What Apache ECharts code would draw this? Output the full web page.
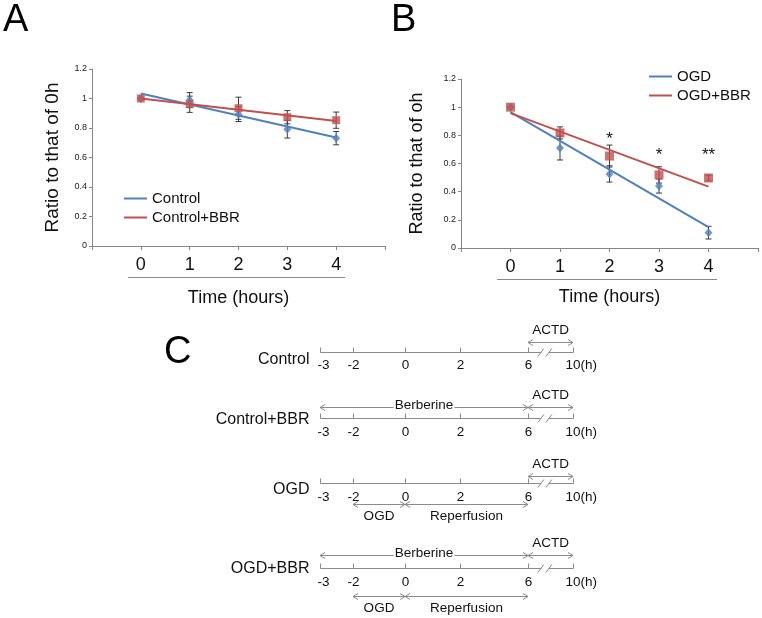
<!DOCTYPE html>
<html><head><meta charset="utf-8">
<script src="https://cdn.jsdelivr.net/npm/echarts@6.0.0/dist/echarts.min.js"></script>
<style>html,body{margin:0;padding:0;background:#fff}#c{width:762px;height:618px}</style>
</head><body><div id="c"></div>
<script>
// ---------- DATA ----------
const hours = [0, 1, 2, 3, 4];
const xTickLabels = ['0', '1', '2', '3', '4'];
// Panel A
const controlMean    = [1.0, 0.99, 0.894, 0.792, 0.731];
const controlErr     = [0, 0.05, 0.05, 0.06, 0.045];
const controlBbrMean = [1.0, 0.961, 0.934, 0.873, 0.853];
const controlBbrErr  = [0, 0.055, 0.075, 0.045, 0.055];
const controlTrend    = [1.034, 0.736];   // linear trend at 0 h and 4 h
const controlBbrTrend = [1.0, 0.848];
// Panel B
const ogdMean    = [1.0, 0.71, 0.526, 0.44, 0.109];
const ogdErr     = [0, 0.085, 0.058, 0.05, 0.045];
const ogdBbrMean = [1.0, 0.817, 0.653, 0.519, 0.497];
const ogdBbrErr  = [0, 0.043, 0.078, 0.058, 0.02];
const ogdTrend    = [0.965, 0.148];
const ogdBbrTrend = [0.958, 0.436];
const sigLabels = ['', '', '*', '*', '**'];
const sigLevel  = [null, null, 0.795, 0.68, 0.68];
// Panel C (protocol timelines)
const cRows = ['Control', 'Control+BBR', 'OGD', 'OGD+BBR'];
const cTickHours  = [-3, -2, 0, 2, 6, 10];
const cTickLabels = ['-3', '-2', '0', '2', '6', '10(h)'];
const periodNames = ['Berberine', 'ACTD', 'OGD', 'Reperfusion'];
const periodStart = [-3, 6, -2, 0];
const periodEnd   = [6, 10, 0, 6];
const periodSide  = ['above', 'above', 'below', 'below'];
const rowPeriods  = [['ACTD'], ['Berberine', 'ACTD'], ['ACTD', 'OGD', 'Reperfusion'], ['Berberine', 'ACTD', 'OGD', 'Reperfusion']];
const breakHour = 7.5;

// ---------- LAYOUT / STYLE ----------
const FONT = '"Liberation Sans", Arial, Helvetica, sans-serif';
const BLUE = '#4F81BD', RED = '#C0504D', AXIS = '#868686', ERR = '#3a3a3a';
const cTickSlot = [0, 33, 85, 140, 208, 253];      // schematic spacing of the broken time axis
const cRowPos = [0, 0.306, 0.606, 1];               // vertical slot of each timeline row
const cRowLayout = [
  {above: -11, below: 0,  label: 7, tick: 13},
  {above: -12, below: 0,  label: 1, tick: 14},
  {above: -8,  below: 20, label: 6, tick: 14},
  {above: -14, below: 27, label: 0, tick: 14}
];
function hourToSlot(h) {
  for (let k = 0; k < cTickHours.length - 1; k++) {
    const a = cTickHours[k], b = cTickHours[k + 1];
    if (h >= a && h <= b) return cTickSlot[k] + (h - a) / (b - a) * (cTickSlot[k + 1] - cTickSlot[k]);
  }
  return h < cTickHours[0] ? cTickSlot[0] : cTickSlot[cTickSlot.length - 1];
}

const pts = (arr) => hours.map((h, i) => [h, arr[i]]);
const errPts = (m, e) => hours.map((h, i) => [h, m[i], e[i]]);
const trendPts = (t) => [[hours[0], t[0]], [hours[hours.length - 1], t[1]]];

function errItem(params, api) {
  const x = api.value(0), m = api.value(1), e = api.value(2);
  if (!e) return null;
  const top = api.coord([x, m + e]), bot = api.coord([x, m - e]);
  const hw = 3, st = {stroke: ERR, lineWidth: 1};
  return {type: 'group', children: [
    {type: 'line', shape: {x1: top[0], y1: top[1], x2: bot[0], y2: bot[1]}, style: st},
    {type: 'line', shape: {x1: top[0] - hw, y1: top[1], x2: top[0] + hw, y2: top[1]}, style: st},
    {type: 'line', shape: {x1: bot[0] - hw, y1: bot[1], x2: bot[0] + hw, y2: bot[1]}, style: st}
  ]};
}
function starItem(params, api) {
  const i = params.dataIndex;
  if (sigLevel[i] == null) return null;
  const p = api.coord([hours[i], sigLevel[i]]);
  return {type: 'text', x: p[0], y: p[1] + 3, style: {text: sigLabels[i], fontSize: 17, fontFamily: FONT, fill: '#111', align: 'center', verticalAlign: 'middle'}};
}

function arrow(x1, x2, y, col) {
  const st = {stroke: col, lineWidth: 1, fill: null};
  return [
    {type: 'line', shape: {x1: x1, y1: y, x2: x2, y2: y}, style: st},
    {type: 'polyline', shape: {points: [[x1 + 5, y - 3], [x1, y], [x1 + 5, y + 3]]}, style: st},
    {type: 'polyline', shape: {points: [[x2 - 5, y - 3], [x2, y], [x2 - 5, y + 3]]}, style: st}
  ];
}
function timelineItem(params, api) {
  const i = params.dataIndex;
  const L = cRowLayout[i];
  const yv = cRowPos[i];
  const P = (h) => api.coord([hourToSlot(h), yv]);
  const y = Math.round(P(0)[1]) + 0.5;
  const xs = cTickHours.map(h => Math.round(P(h)[0]) + 0.5);
  const gray = '#8a8a8a';
  const ch = [];
  const st = {stroke: gray, lineWidth: 1};
  ch.push({type: 'line', shape: {x1: xs[0], y1: y, x2: xs[xs.length - 1], y2: y}, style: st});
  xs.forEach(x => ch.push({type: 'line', shape: {x1: x, y1: y - 5, x2: x, y2: y}, style: st}));
  const bx = P(breakHour)[0];
  ch.push({type: 'rect', shape: {x: bx - 4, y: y - 2, width: 8, height: 4}, style: {fill: '#fff'}});
  [-4, 4].forEach(d => ch.push({type: 'line', shape: {x1: bx + d - 3, y1: y + 4, x2: bx + d + 3, y2: y - 4}, style: st}));
  cTickLabels.forEach((t, k) => {
    const last = k === cTickLabels.length - 1;
    ch.push({type: 'text', x: last ? xs[k] - 8 : xs[k] + (k === 0 ? 3 : 0), y: y + L.tick,
      style: {text: t, fontSize: 13.5, fontFamily: FONT, fill: '#111', align: last ? 'left' : 'center', verticalAlign: 'middle'}});
  });
  ch.push({type: 'text', x: xs[0] - 11, y: y + L.label,
    style: {text: cRows[i], fontSize: 16, fontFamily: FONT, fill: '#111', align: 'right', verticalAlign: 'middle'}});
  rowPeriods[i].forEach(name => {
    const k = periodNames.indexOf(name);
    const x1 = P(periodStart[k])[0], x2 = P(periodEnd[k])[0];
    const above = periodSide[k] === 'above';
    const ay = Math.round(y + (above ? L.above : L.below)) + 0.5;
    arrow(x1, x2, ay, '#8c8c8c').forEach(e => ch.push(e));
    const mx = (x1 + x2) / 2;
    if (name === 'Berberine') {
      ch.push({type: 'text', x: mx, y: ay - 2, style: {text: name, fontSize: 13.5, fontFamily: FONT, fill: '#111', align: 'center', verticalAlign: 'middle', backgroundColor: '#fff', padding: [0, 1]}});
    } else if (above) {
      ch.push({type: 'text', x: mx, y: ay - 12, style: {text: name, fontSize: 13.5, fontFamily: FONT, fill: '#111', align: 'center', verticalAlign: 'middle'}});
    } else {
      ch.push({type: 'text', x: mx, y: ay + 12, style: {text: name, fontSize: 13.5, fontFamily: FONT, fill: '#111', align: 'center', verticalAlign: 'middle'}});
    }
  });
  return {type: 'group', children: ch};
}

function xAxisCfg(gi, gap) {
  return {
    gridIndex: gi, type: 'value', min: -1, max: 5, interval: 1,
    axisLine: {show: true, onZero: false, lineStyle: {color: AXIS, width: 1}},
    axisTick: {show: true, inside: false, length: 4, lineStyle: {color: AXIS}},
    axisLabel: {show: true, margin: 10, fontSize: 18, fontFamily: FONT, color: '#111',
      formatter: v => { const i = hours.indexOf(v); return i >= 0 ? xTickLabels[i] : ''; }},
    splitLine: {show: false},
    name: 'Time (hours)', nameLocation: 'middle', nameGap: gap, nameMoveOverlap: false,
    nameTextStyle: {fontSize: 18, fontFamily: FONT, color: '#111'}
  };
}
function yAxisCfg(gi, name, gap, nfs) {
  return {
    gridIndex: gi, type: 'value', min: 0, max: 1.2, interval: 0.2,
    axisLine: {show: true, onZero: false, lineStyle: {color: AXIS, width: 1}},
    axisTick: {show: true, inside: false, length: 3, lineStyle: {color: AXIS}},
    axisLabel: {margin: 5, fontSize: 9, fontFamily: FONT, color: '#222'},
    splitLine: {show: false},
    name: name, nameLocation: 'middle', nameGap: gap, nameMoveOverlap: false,
    nameTextStyle: {fontSize: nfs, fontFamily: FONT, color: '#111'}
  };
}

const chart = echarts.init(document.getElementById('c'), null, {renderer: 'canvas'});
chart.setOption({
  animation: false,
  backgroundColor: '#fff',
  grid: [
    {left: 92, top: 69, width: 293, height: 177, containLabel: false, outerBoundsMode: 'none'},
    {left: 461, top: 79, width: 297, height: 169, containLabel: false, outerBoundsMode: 'none'},
    {left: 320, top: 352, width: 253, height: 216, containLabel: false, outerBoundsMode: 'none'}
  ],
  xAxis: [
    xAxisCfg(0, 43),
    xAxisCfg(1, 40),
    {gridIndex: 2, type: 'value', min: 0, max: cTickSlot[cTickSlot.length - 1], show: false}
  ],
  yAxis: [
    yAxisCfg(0, 'Ratio to that of 0h', 30, 19),
    yAxisCfg(1, 'Ratio to that of oh', 35, 18),
    {gridIndex: 2, type: 'value', min: 0, max: 1, inverse: true, show: false}
  ],
  legend: [
    {data: ['Control', 'Control+BBR'], orient: 'vertical', left: 119, top: 186, icon: 'rect',
     itemWidth: 23, itemHeight: 2, itemGap: 4, textStyle: {fontSize: 15, lineHeight: 15, fontFamily: FONT, color: '#111'}},
    {data: ['OGD', 'OGD+BBR'], orient: 'vertical', left: 644, top: 64, icon: 'rect',
     itemWidth: 23, itemHeight: 2, itemGap: 4, textStyle: {fontSize: 15, lineHeight: 15, fontFamily: FONT, color: '#111'}}
  ],
  graphic: [
    {type: 'text', left: 3, top: 2, style: {text: 'A', fontSize: 38, fontFamily: FONT, fill: '#000'}},
    {type: 'text', left: 391, top: 2, style: {text: 'B', fontSize: 38, fontFamily: FONT, fill: '#000'}},
    {type: 'text', left: 164, top: 334, style: {text: 'C', fontSize: 38, fontFamily: FONT, fill: '#000'}},
    {type: 'line', shape: {x1: 128, y1: 277.5, x2: 345, y2: 277.5}, style: {stroke: '#8a8a8a', lineWidth: 1.2}},
    {type: 'line', shape: {x1: 497, y1: 279.5, x2: 717, y2: 279.5}, style: {stroke: '#8a8a8a', lineWidth: 1.2}}
  ],
  series: [
    // Panel A
    {type: 'custom', xAxisIndex: 0, yAxisIndex: 0, renderItem: errItem, data: errPts(controlMean, controlErr), z: 2, silent: true},
    {type: 'custom', xAxisIndex: 0, yAxisIndex: 0, renderItem: errItem, data: errPts(controlBbrMean, controlBbrErr), z: 2, silent: true},
    {name: 'Control pts', type: 'scatter', xAxisIndex: 0, yAxisIndex: 0, symbol: 'diamond', symbolSize: [8, 9], itemStyle: {color: BLUE}, data: pts(controlMean), z: 3},
    {name: 'Control+BBR pts', type: 'scatter', xAxisIndex: 0, yAxisIndex: 0, symbol: 'rect', symbolSize: 8, itemStyle: {color: RED}, data: pts(controlBbrMean), z: 4},
    {name: 'Control', type: 'line', xAxisIndex: 0, yAxisIndex: 0, data: trendPts(controlTrend), showSymbol: false, symbol: 'none', color: BLUE, lineStyle: {color: BLUE, width: 2}, z: 5},
    {name: 'Control+BBR', type: 'line', xAxisIndex: 0, yAxisIndex: 0, data: trendPts(controlBbrTrend), showSymbol: false, symbol: 'none', color: RED, lineStyle: {color: RED, width: 2}, z: 5},
    // Panel B
    {type: 'custom', xAxisIndex: 1, yAxisIndex: 1, renderItem: errItem, data: errPts(ogdMean, ogdErr), z: 2, silent: true},
    {type: 'custom', xAxisIndex: 1, yAxisIndex: 1, renderItem: errItem, data: errPts(ogdBbrMean, ogdBbrErr), z: 2, silent: true},
    {name: 'OGD pts', type: 'scatter', xAxisIndex: 1, yAxisIndex: 1, symbol: 'diamond', symbolSize: [8, 9], itemStyle: {color: BLUE}, data: pts(ogdMean), z: 3},
    {name: 'OGD+BBR pts', type: 'scatter', xAxisIndex: 1, yAxisIndex: 1, symbol: 'rect', symbolSize: 9, itemStyle: {color: RED}, data: pts(ogdBbrMean), z: 4},
    {name: 'OGD', type: 'line', xAxisIndex: 1, yAxisIndex: 1, data: trendPts(ogdTrend), showSymbol: false, symbol: 'none', color: BLUE, lineStyle: {color: BLUE, width: 2}, z: 5},
    {name: 'OGD+BBR', type: 'line', xAxisIndex: 1, yAxisIndex: 1, data: trendPts(ogdBbrTrend), showSymbol: false, symbol: 'none', color: RED, lineStyle: {color: RED, width: 2}, z: 5},
    {type: 'custom', xAxisIndex: 1, yAxisIndex: 1, renderItem: starItem, data: hours.map((h, i) => [h, sigLevel[i] == null ? 0 : sigLevel[i]]), z: 6, silent: true},
    // Panel C
    {type: 'custom', xAxisIndex: 2, yAxisIndex: 2, renderItem: timelineItem, data: cRows.map((r, i) => [0, cRowPos[i]]), clip: false, silent: true, z: 2}
  ]
});
</script>
</body></html>
